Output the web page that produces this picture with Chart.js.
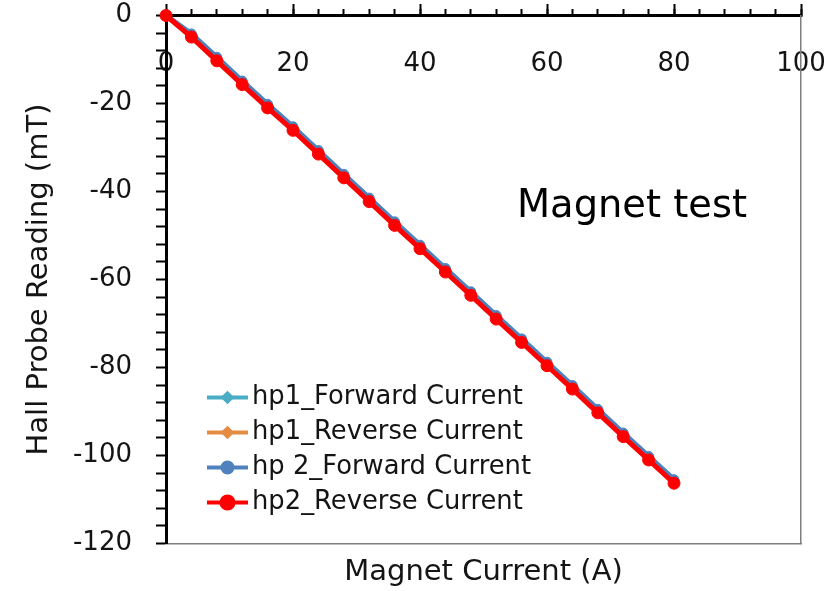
<!DOCTYPE html>
<html lang="en">
<head>
    <meta charset="UTF-8">
    <title>Magnet test</title>
    <script src="https://cdn.jsdelivr.net/npm/chart.js@4"></script>
    <style>
        html, body { margin: 0; padding: 0; background: #ffffff; }
        #wrap { width: 827px; height: 591px; }
    </style>
</head>
<body>
    <div id="wrap"><canvas id="magnetChart" width="827" height="591"></canvas></div>

    <script>
        // Magnet current (A) and hall probe readings (mT)
        const current = [0, 4, 8, 12, 16, 20, 24, 28, 32, 36, 40, 44, 48, 52, 56, 60, 64, 68, 72, 76, 80];
        const hp1Forward = [0, -4.2, -9.5, -14.9, -20.2, -25.3, -30.7, -36.1, -41.5, -46.9, -52.2, -57.5, -62.8, -68.2, -73.5, -78.8, -84.1, -89.5, -94.9, -100.2, -105.5];
        const hp1Reverse = [0, -4.6, -10.0, -15.4, -20.7, -25.8, -31.2, -36.6, -42.0, -47.4, -52.7, -58.0, -63.3, -68.7, -74.0, -79.3, -84.6, -90.0, -95.4, -100.7, -106.0];
        const hp2Forward = [0, -4.2, -9.5, -14.9, -20.2, -25.3, -30.7, -36.1, -41.5, -46.9, -52.2, -57.5, -62.8, -68.2, -73.5, -78.8, -84.1, -89.5, -94.9, -100.2, -105.5];
        const hp2Reverse = [0, -4.9, -10.3, -15.7, -21.0, -26.1, -31.5, -36.9, -42.3, -47.7, -53.0, -58.3, -63.6, -69.0, -74.3, -79.6, -84.9, -90.3, -95.7, -101.0, -106.3];

        const seriesNames = ['hp1_Forward Current', 'hp1_Reverse Current', 'hp 2_Forward Current', 'hp2_Reverse Current'];
        const seriesValues = [hp1Forward, hp1Reverse, hp2Forward, hp2Reverse];
        const seriesColors = ['#4BACC6', '#E48D42', '#4F81BD', '#FF0000'];
        const seriesMarkers = ['rectRot', 'rectRot', 'circle', 'circle'];
        const markerSizes = [4, 4, 5, 6];

        const xTicks = { min: 0, max: 100, major: 20, minor: 4 };
        const yTicks = { min: -120, max: 0, major: 20, minor: 4 };

        const textColor = '#141414';
        Chart.defaults.font.family = "'DejaVu Sans', sans-serif";
        Chart.defaults.color = textColor;

        // keep label overhang from pushing the plot area around
        function noOverhang(scale) {
            scale.paddingLeft = 0;
            scale.paddingRight = 0;
            scale.paddingTop = 0;
            scale.paddingBottom = 0;
        }

        // the key sits inside the plot, lower left, with a line + marker sample
        const seriesKey = {
            id: 'seriesKey',
            afterDraw(chart) {
                const ctx = chart.ctx;
                const area = chart.chartArea;
                const x0 = area.left + 41;
                const y0 = area.bottom - 146;
                ctx.save();
                chart.data.datasets.forEach((ds, i) => {
                    const y = y0 + i * 35;
                    ctx.strokeStyle = ds.borderColor;
                    ctx.lineWidth = 4;
                    ctx.beginPath();
                    ctx.moveTo(x0, y);
                    ctx.lineTo(x0 + 41, y);
                    ctx.stroke();
                    ctx.fillStyle = ds.pointBackgroundColor;
                    ctx.strokeStyle = ds.pointBorderColor;
                    Chart.helpers.drawPoint(ctx, {
                        pointStyle: ds.pointStyle,
                        radius: ds.pointRadius,
                        borderWidth: 1,
                        rotation: 0
                    }, x0 + 20.5, y);
                    ctx.fillStyle = textColor;
                    ctx.font = "25.8px 'DejaVu Sans'";
                    ctx.textAlign = 'left';
                    ctx.textBaseline = 'middle';
                    ctx.fillText(ds.label, x0 + 45, y);
                });

                ctx.font = "38.4px 'DejaVu Sans'";
                ctx.fillStyle = '#000000';
                ctx.textBaseline = 'alphabetic';
                ctx.fillText('Magnet test', area.left + 351, area.top + 201.5);
                ctx.restore();
            }
        };

        const datasets = seriesNames.map((name, i) => ({
            label: name,
            data: current.map((c, j) => ({ x: c, y: seriesValues[i][j] })),
            xAxisID: 'x',
            yAxisID: 'y',
            borderColor: seriesColors[i],
            backgroundColor: seriesColors[i],
            pointBackgroundColor: seriesColors[i],
            pointBorderColor: seriesColors[i],
            pointStyle: seriesMarkers[i],
            pointRadius: markerSizes[i],
            pointBorderWidth: 1,
            borderWidth: 5,
            tension: 0,
            clip: false,
            order: seriesNames.length - i
        }));

        new Chart(document.getElementById('magnetChart'), {
            type: 'line',
            data: { datasets },
            options: {
                responsive: false,
                animation: false,
                devicePixelRatio: 1,
                layout: { padding: { top: 15.5, left: 0, right: 0, bottom: 0 } },
                plugins: {
                    legend: { display: false },
                    tooltip: { enabled: false }
                },
                scales: {
                    // axis crosses at y = 0, labels hang below it, ticks point up
                    x: {
                        type: 'linear',
                        position: { y: 0 },
                        min: xTicks.min,
                        max: xTicks.max,
                        ticks: { stepSize: xTicks.major, padding: 46, maxRotation: 0, font: { size: 26 }, color: textColor },
                        grid: { drawOnChartArea: false, tickLength: -13, tickWidth: 2, tickColor: '#000000' },
                        border: { color: '#000000', width: 3 },
                        afterFit: noOverhang
                    },
                    xMinor: {
                        type: 'linear',
                        position: { y: 0 },
                        min: xTicks.min,
                        max: xTicks.max,
                        ticks: { stepSize: xTicks.minor, display: false },
                        grid: { drawOnChartArea: false, tickLength: -7, tickWidth: 2, tickColor: '#000000' },
                        border: { display: false },
                        afterFit: noOverhang
                    },
                    xFrame: {
                        type: 'linear',
                        position: 'bottom',
                        min: xTicks.min,
                        max: xTicks.max,
                        ticks: { display: false },
                        grid: { display: false },
                        border: { color: '#7f7f7f', width: 1.5 },
                        title: { display: true, text: 'Magnet Current (A)', font: { size: 29 }, color: textColor, padding: { top: 0, bottom: 1 } },
                        afterFit(scale) { noOverhang(scale); scale.height = 47.5; }
                    },
                    y: {
                        type: 'linear',
                        position: 'left',
                        min: yTicks.min,
                        max: yTicks.max,
                        ticks: {
                            stepSize: yTicks.minor,
                            autoSkip: false,
                            padding: 24,
                            font: { size: 26 },
                            color: textColor,
                            callback: v => (v % yTicks.major === 0 ? v : '')
                        },
                        grid: { drawOnChartArea: false, tickLength: 10, tickWidth: 2, tickColor: '#000000' },
                        border: { color: '#000000', width: 3 },
                        title: { display: true, text: 'Hall Probe Reading (mT)', font: { size: 29 }, color: textColor, padding: { top: 22, bottom: 0 } },
                        afterFit(scale) { noOverhang(scale); scale.width = 166; }
                    },
                    yFrame: {
                        type: 'linear',
                        position: 'right',
                        min: yTicks.min,
                        max: yTicks.max,
                        ticks: { display: false },
                        grid: { display: false },
                        border: { color: '#7f7f7f', width: 1.5 },
                        afterFit(scale) { noOverhang(scale); scale.width = 26; }
                    }
                }
            },
            plugins: [seriesKey]
        });
    </script>
</body>
</html>
